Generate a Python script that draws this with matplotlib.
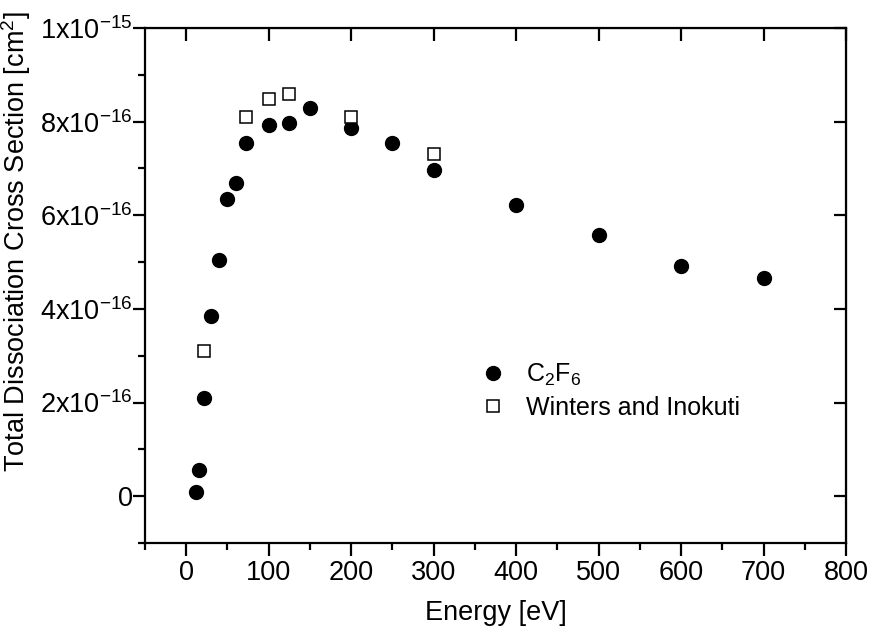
import matplotlib
matplotlib.use("Agg")
import matplotlib.pyplot as plt
from matplotlib.ticker import MultipleLocator

plt.rcParams['font.family'] = ['Liberation Sans', 'DejaVu Sans']
plt.rcParams['mathtext.default'] = 'regular'

# C2F6 data
energy_c2f6 = [12, 15, 22, 30, 40, 50, 60, 72, 100, 125, 150, 200, 250, 300, 400, 500, 600, 700]
sigma_c2f6 = [0.08e-16, 0.56e-16, 2.1e-16, 3.84e-16, 5.05e-16, 6.34e-16, 6.68e-16, 7.55e-16,
              7.93e-16, 7.97e-16, 8.29e-16, 7.87e-16, 7.55e-16, 6.96e-16, 6.21e-16, 5.57e-16,
              4.92e-16, 4.67e-16]

# Winters and Inokuti data
energy_wi = [22, 72, 100, 125, 200, 300]
sigma_wi = [3.1e-16, 8.1e-16, 8.49e-16, 8.59e-16, 8.09e-16, 7.30e-16]

x_ticks = [0, 100, 200, 300, 400, 500, 600, 700, 800]
y_ticks = [0, 2e-16, 4e-16, 6e-16, 8e-16, 1e-15]
y_tick_labels = ['0', '2x10$^{-16}$', '4x10$^{-16}$', '6x10$^{-16}$', '8x10$^{-16}$', '1x10$^{-15}$']

FS = 19.5
LFS = 18

fig = plt.figure(figsize=(8.72, 6.32), dpi=100)
ax = fig.add_axes([145/872, 89/632, 701/872, 515/632])

ax.plot(energy_c2f6, sigma_c2f6, 'o', color='black', markersize=10, label='C$_2$F$_6$')
ax.plot(energy_wi, sigma_wi, 's', markerfacecolor='white', markeredgecolor='black',
        markeredgewidth=1.1, markersize=8.5, label='Winters and Inokuti')

ax.set_xlim(-50, 800)
ax.set_ylim(-1e-16, 1e-15)
ax.set_xticks(x_ticks)
ax.xaxis.set_minor_locator(MultipleLocator(50))
ax.set_yticks(y_ticks)
ax.set_yticklabels(y_tick_labels)
ax.yaxis.set_minor_locator(MultipleLocator(1e-16))

for s in ax.spines.values():
    s.set_linewidth(1.6)

ax.tick_params(which='major', direction='out', length=9, width=1.6, labelsize=FS, pad=3)
ax.tick_params(which='minor', direction='out', length=5, width=1.6)
ax.tick_params(axis='y', which='major', pad=0)

top = ax.secondary_xaxis('top')
top.set_xticks(x_ticks)
top.tick_params(direction='in', length=9, width=1.6, labeltop=False)
top.xaxis.set_minor_locator(plt.NullLocator())
right = ax.secondary_yaxis('right')
right.set_yticks(y_ticks)
right.tick_params(direction='in', length=9, width=1.6, labelright=False)
right.yaxis.set_minor_locator(plt.NullLocator())

ax.set_xlabel('Energy [eV]', fontsize=FS)
ax.set_ylabel('Total Dissociation Cross Section [cm$^2$]', fontsize=FS)
ax.xaxis.set_label_coords(0.5, -0.11)
ax.yaxis.set_label_coords(-0.16, 0.585)

leg = ax.legend(loc='upper left', bbox_to_anchor=(0.446, 0.395), frameon=False, fontsize=LFS,
                handletextpad=0.85, labelspacing=0.3, handlelength=1.0)

fig.savefig('out.png', dpi=100)
